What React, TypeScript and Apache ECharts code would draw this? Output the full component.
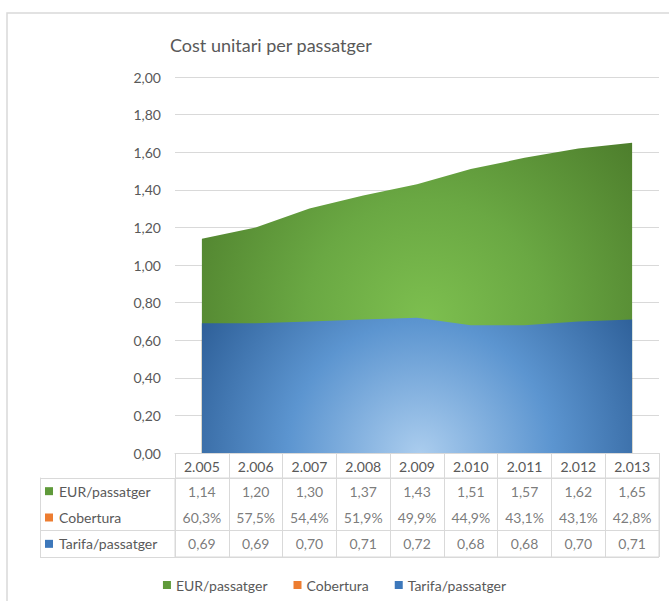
import React, { useEffect, useRef } from "react";
import * as echarts from "echarts";

const categories = ["2.005", "2.006", "2.007", "2.008", "2.009", "2.010", "2.011", "2.012", "2.013"];
const eurPassatger = [1.14, 1.2, 1.3, 1.37, 1.43, 1.51, 1.57, 1.62, 1.65];
const coberturaPct = [60.3, 57.5, 54.4, 51.9, 49.9, 44.9, 43.1, 43.1, 42.8];
const tarifaPassatger = [0.69, 0.69, 0.7, 0.71, 0.72, 0.68, 0.68, 0.7, 0.71];
const rowNames = ["EUR/passatger", "Cobertura", "Tarifa/passatger"];
const yTicks = { min: 0, max: 2, interval: 0.2 };

const FONT = "Lato";
const TEXT = "#595959";
const LINE = "#d9d9d9";
const GREEN = "#5f9a3a";
const ORANGE = "#ed7d31";
const BLUE = "#3d78bb";

const dec2 = (v: number) => v.toFixed(2).replace(".", ",");
const pct1 = (v: number) => v.toFixed(1).replace(".", ",") + "%";

export default function App() {
  const ref = useRef<HTMLDivElement>(null);
  useEffect(() => {
    if (!ref.current) return;
    const chart = echarts.init(ref.current, null, { renderer: "svg" });

    const tableRows = [
      eurPassatger.map(dec2),
      coberturaPct.map(pct1),
      tarifaPassatger.map(dec2),
    ];
    const tableData: any[] = [];
    tableRows.forEach((row, r) => {
      row.forEach((txt, i) => {
        tableData.push({ value: [i, r], name: txt });
      });
    });

    const rowColors = [GREEN, ORANGE, BLUE];

    const option: any = {
      animation: false,
      backgroundColor: "#ffffff",
      textStyle: { fontFamily: FONT },
      title: {
        text: "Cost unitari per passatger",
        left: 165,
        top: 31,
        textStyle: { fontFamily: FONT, fontSize: 18, fontWeight: "normal", color: TEXT },
      },
      graphic: [
        {
          type: "rect",
          shape: { x: 7, y: 13, width: 720, height: 640 },
          style: { fill: "none", stroke: LINE, lineWidth: 1.5 },
          silent: true,
        },
      ],
      legend: {
        data: rowNames,
        left: "center",
        top: 573,
        icon: "rect",
        itemWidth: 8,
        itemHeight: 8,
        itemGap: 26,
        textStyle: { fontFamily: FONT, fontSize: 14, color: TEXT },
      },
      grid: [
        { left: 175, right: 10, top: 77, height: 376 },
        {
          left: 175,
          right: 10,
          top: 478,
          height: 79,
          show: true,
          borderColor: LINE,
          borderWidth: 1,
        },
      ],
      xAxis: [
        {
          type: "category",
          gridIndex: 0,
          data: categories,
          boundaryGap: true,
          axisLine: { show: true, lineStyle: { color: LINE, width: 1 } },
          axisTick: { show: true, length: 25, interval: 0, lineStyle: { color: LINE, width: 1 } },
          axisLabel: {
            show: true,
            interval: 0,
            margin: 6,
            fontFamily: FONT,
            fontSize: 14,
            color: TEXT,
          },
          splitLine: { show: false },
        },
        {
          type: "category",
          gridIndex: 1,
          data: categories,
          boundaryGap: true,
          axisLine: { show: false },
          axisTick: { show: false },
          axisLabel: { show: false },
          splitLine: { show: true, interval: 0, lineStyle: { color: LINE, width: 1 } },
        },
      ],
      yAxis: [
        {
          type: "value",
          gridIndex: 0,
          min: yTicks.min,
          max: yTicks.max,
          interval: yTicks.interval,
          axisLine: { show: false },
          axisTick: { show: false },
          axisLabel: {
            margin: 14,
            fontFamily: FONT,
            fontSize: 14,
            color: TEXT,
            formatter: (v: number) => dec2(v),
          },
          splitLine: { show: true, lineStyle: { color: LINE, width: 1 } },
        },
        {
          type: "category",
          gridIndex: 1,
          data: rowNames,
          inverse: true,
          boundaryGap: true,
          axisLine: { show: false },
          axisTick: {
            show: true,
            length: 135,
            interval: (i: number) => i === 0 || i === 2,
            lineStyle: { color: LINE, width: 1 },
          },
          splitLine: {
            show: true,
            interval: (i: number) => i === 0 || i === 2,
            lineStyle: { color: LINE, width: 1 },
          },
          axisLabel: {
            show: true,
            interval: 0,
            align: "left",
            margin: 130,
            fontFamily: FONT,
            fontSize: 14,
            color: TEXT,
            formatter: (v: string) => {
              const idx = rowNames.indexOf(v);
              return "{s" + idx + "|}{t|" + v + "}";
            },
            rich: {
              s0: { width: 8, height: 8, backgroundColor: rowColors[0] },
              s1: { width: 8, height: 8, backgroundColor: rowColors[1] },
              s2: { width: 8, height: 8, backgroundColor: rowColors[2] },
              t: { fontFamily: FONT, fontSize: 14, color: TEXT, padding: [0, 0, 0, 6] },
            },
          },
        },
        {
          type: "value",
          gridIndex: 1,
          min: 0,
          max: 1,
          position: "left",
          offset: 135,
          axisLine: { show: true, lineStyle: { color: LINE, width: 1 } },
          axisTick: { show: false },
          axisLabel: { show: false },
          splitLine: { show: false },
        },
      ],
      series: [
        {
          name: rowNames[0],
          type: "line",
          xAxisIndex: 0,
          yAxisIndex: 0,
          data: eurPassatger,
          symbol: "none",
          lineStyle: { width: 0 },
          itemStyle: { color: GREEN },
          areaStyle: {
            opacity: 1,
            color: {
              type: "radial",
              global: true,
              x: 425,
              y: 320,
              r: 300,
              colorStops: [
                { offset: 0, color: "#7dbf4f" },
                { offset: 0.4, color: "#6aa843" },
                { offset: 1, color: "#487628" },
              ],
            },
          },
          z: 2,
        },
        {
          name: rowNames[1],
          type: "line",
          xAxisIndex: 0,
          yAxisIndex: 0,
          data: coberturaPct.map((v) => v / 100),
          symbol: "none",
          lineStyle: { width: 0 },
          itemStyle: { color: ORANGE },
          areaStyle: { opacity: 1, color: ORANGE },
          z: 3,
        },
        {
          name: rowNames[2],
          type: "line",
          xAxisIndex: 0,
          yAxisIndex: 0,
          data: tarifaPassatger,
          symbol: "none",
          lineStyle: { width: 0 },
          itemStyle: { color: BLUE },
          areaStyle: {
            opacity: 1,
            color: {
              type: "radial",
              global: true,
              x: 420,
              y: 455,
              r: 265,
              colorStops: [
                { offset: 0, color: "#abcdee" },
                { offset: 0.5, color: "#5c95d0" },
                { offset: 1, color: "#2a5b94" },
              ],
            },
          },
          z: 4,
        },
        {
          type: "scatter",
          xAxisIndex: 1,
          yAxisIndex: 1,
          data: tableData,
          symbolSize: 1,
          itemStyle: { color: "rgba(0,0,0,0)" },
          silent: true,
          label: {
            show: true,
            position: "inside",
            formatter: "{b}",
            fontFamily: FONT,
            fontSize: 14,
            color: TEXT,
          },
        },
      ],
    };

    chart.setOption(option);
    return () => chart.dispose();
  }, []);

  return (
    <div
      ref={ref}
      style={{ position: "absolute", left: 0, top: 0, width: 669, height: 601, background: "#fff" }}
    />
  );
}
